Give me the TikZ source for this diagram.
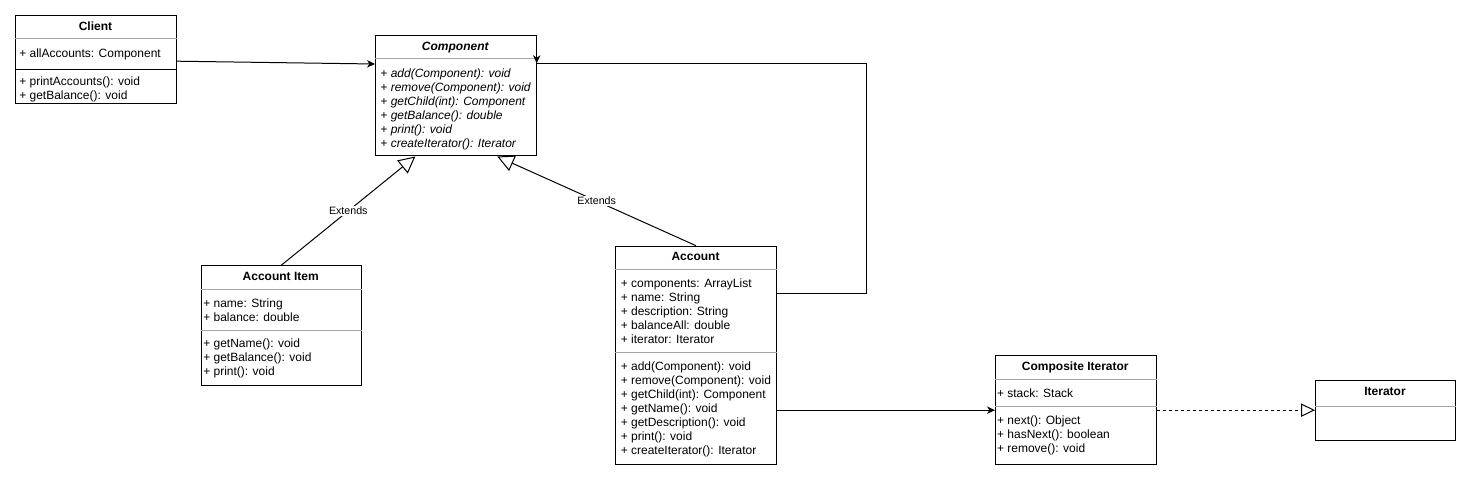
\documentclass[tikz,border=0pt]{standalone}
\usepackage{fontspec}
\setmainfont{Liberation Sans}
\usetikzlibrary{arrows.meta}
\usetikzlibrary{calc}

\tikzset{
	classbox/.style={draw, line width=0.75pt, anchor=north west, inner sep=0pt},
	boxsize/.style 2 args={minimum width=#1*0.75pt, minimum height=#2*0.75pt},
	titleline/.style={gray!70, line width=0.75pt},
	divider/.style={gray!70, line width=0.75pt},
	classname/.style={font=\fontsize{9}{10.5}\selectfont\bfseries, anchor=base, inner sep=0pt},
	members/.style={font=\fontsize{9}{10.5}\selectfont, align=left, anchor=north west, inner sep=0pt},
	assoc/.style={line width=0.75pt, -{Stealth[length=6pt,width=5.5pt,inset=1.8pt]}},
	extends/.style={line width=0.75pt, -{Triangle[open,length=12.5pt,width=12.5pt]}},
	realize/.style={line width=0.75pt, dash pattern=on 2.25pt off 2.25pt, -{Triangle[open,length=10.5pt,width=10pt]}},
	edgelabel/.style={font=\fontsize{8}{9.6}\selectfont, fill=white, inner sep=1pt}
}

\begin{document}
\begin{tikzpicture}[x=0.75pt, y=-0.75pt]
	\useasboundingbox (0,0) rectangle (1471,481);

	\node[classbox, boxsize={161}{88}] (client) at (15,15) {};
	\node[classname] (clientname) at (95.5,30.3) {Client};
	\draw[titleline] (client.west |- 0,39) -- (client.east |- 0,39);
	\node[members] (clientattr) at (19,48.3) {+ allAccounts: Component};
	\draw[line width=0.75pt] (client.west |- 0,70) -- (client.east |- 0,70);
	\node[members] (clientops) at (19,76.3) {+ printAccounts(): void\\+ getBalance(): void};

	\node[classbox, boxsize={160.7}{120.5}] (component) at (375,35) {};
	\node[classname, font=\fontsize{9}{10.5}\selectfont\bfseries\itshape] (componentname) at (455.3,50.3) {Component};
	\draw[titleline] (component.west |- 0,59) -- (component.east |- 0,59);
	\node[members, font=\fontsize{9}{10.5}\selectfont\itshape] (componentops) at (380.2,68.3) {+ add(Component): void\\+ remove(Component): void\\+ getChild(int): Component\\+ getBalance(): double\\+ print(): void\\+ createIterator(): Iterator};

	\node[classbox, boxsize={160}{119.7}] (accitem) at (200.7,265.3) {};
	\node[classname] (accitemname) at (280.7,280.3) {Account Item};
	\draw[titleline] (accitem.west |- 0,289.3) -- (accitem.east |- 0,289.3);
	\node[members] (accitemattr) at (203,298.9) {+ name: String\\+ balance: double};
	\draw[divider] (accitem.west |- 0,330.3) -- (accitem.east |- 0,330.3);
	\node[members] (accitemops) at (203,338.9) {+ getName(): void\\+ getBalance(): void\\+ print(): void};

	\node[classbox, boxsize={160.4}{218.6}] (account) at (615.3,245.7) {};
	\node[classname] (accountname) at (695.5,260.3) {Account};
	\draw[titleline] (account.west |- 0,269) -- (account.east |- 0,269);
	\node[members] (accountattr) at (620.5,278.3) {+ components: ArrayList\\+ name: String\\+ description: String\\+ balanceAll: double\\+ iterator: Iterator};
	\draw[divider] (account.west |- 0,352) -- (account.east |- 0,352);
	\node[members] (accountops) at (620.5,361.6) {+ add(Component): void\\+ remove(Component): void\\+ getChild(int): Component\\+ getName(): void\\+ getDescription(): void\\+ print(): void\\+ createIterator(): Iterator};

	\node[classbox, boxsize={160.7}{109.3}] (compiter) at (995,355) {};
	\node[classname] (compitername) at (1075.3,370) {Composite Iterator};
	\draw[titleline] (compiter.west |- 0,379) -- (compiter.east |- 0,379);
	\node[members] (compiterattr) at (996.8,388.9) {+ stack: Stack};
	\draw[divider] (compiter.west |- 0,406.3) -- (compiter.east |- 0,406.3);
	\node[members] (compiterops) at (996.8,415.6) {+ next(): Object\\+ hasNext(): boolean\\+ remove(): void};

	\node[classbox, boxsize={140.3}{59.7}] (iterator) at (1315,380.3) {};
	\node[classname] (iteratorname) at (1385,395) {Iterator};
	\draw[titleline] (iterator.west |- 0,406) -- (iterator.east |- 0,406);

	\draw[assoc] ($(client.east)+(0,1.7)$) -- ($(component.north west)+(0,29)$);
	\draw[extends] (accitem.north) -- ($(component.south)+(-40.5,0)$) node[midway, edgelabel] {Extends};
	\draw[extends] (account.north) -- ($(component.south)+(41.5,0)$) node[midway, edgelabel] {Extends};
	\draw[line width=0.75pt] ($(account.north east)+(0,47.5)$) -- ++(89.6,0) |- ($(component.north east)+(0,28.3)$);
	\draw[assoc] (component.north east) -- ($(component.north east)+(0,28.3)$);
	\draw[assoc] (account.east |- compiter.west) -- (compiter.west);
	\draw[realize] (compiter.east) -- (compiter.east -| iterator.west);
\end{tikzpicture}
\end{document}
